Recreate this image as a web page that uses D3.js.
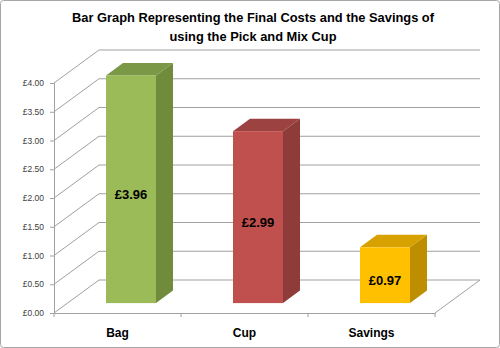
<!DOCTYPE html>
<html>
<head>
<meta charset="utf-8">
<script src="https://cdn.jsdelivr.net/npm/d3@7"></script>
<style>
  body { margin: 0; background: #fff; }
  svg { display: block; font-family: "Liberation Sans", Arial, sans-serif; }
</style>
</head>
<body>
<svg id="chart" width="500" height="348"></svg>
<script>
// data
const categories = ["Bag", "Cup", "Savings"];
const values = [3.96, 2.99, 0.97];
const valueLabels = ["£3.96", "£2.99", "£0.97"];
const yTicks = [0, 0.5, 1, 1.5, 2, 2.5, 3, 3.5, 4];
const titleLines = ["Bar Graph Representing the Final Costs and the Savings of", "using the Pick and Mix Cup"];

const frontColors = ["#9bbb59", "#c0504d", "#ffc000"];
const sideColors = ["#718b3c", "#8e3b39", "#bd8e00"];
const topColors = ["#7b9847", "#9c4240", "#d7a100"];

const svg = d3.select("#chart");

// outer border
svg.append("rect")
    .attr("x", 0.5).attr("y", 0.5)
    .attr("width", 499).attr("height", 347)
    .attr("rx", 3)
    .attr("fill", "#fff")
    .attr("stroke", "#a6a6a6");

// title
svg.selectAll(".title").data(titleLines).enter().append("text")
    .attr("x", 253)
    .attr("y", (d, i) => 22 + i * 19)
    .attr("text-anchor", "middle")
    .attr("font-size", 13)
    .attr("font-weight", "bold")
    .attr("fill", "#000")
    .attr("textLength", (d, i) => i === 0 ? 362 : 167)
    .attr("lengthAdjust", "spacingAndGlyphs")
    .text(d => d);

// scales (front plane)
const y = d3.scaleLinear().domain([0, 4]).range([313, 83]);
const x = d3.scaleBand().domain(categories).range([54, 435]).padding(0);

// 3d depth of the plot box and of the bars
const depthX = 45, depthY = -33;
const barShift = 0.3;            // bar front face, fraction of full depth
const barDepthX = 17, barDepthY = -12.5;
const barW = 50;
const gridColor = "#a0a0a0";

// back wall gridlines
svg.append("g").selectAll("line").data(yTicks).enter().append("line")
    .attr("x1", 54 + depthX).attr("x2", 435 + depthX)
    .attr("y1", d => y(d) + depthY).attr("y2", d => y(d) + depthY)
    .attr("stroke", gridColor).attr("stroke-width", 1);

// side wall diagonals
svg.append("g").selectAll("line").data(yTicks).enter().append("line")
    .attr("x1", 54).attr("x2", 54 + depthX)
    .attr("y1", d => y(d)).attr("y2", d => y(d) + depthY)
    .attr("stroke", gridColor).attr("stroke-width", 1);

// floor right edge
svg.append("line")
    .attr("x1", 435).attr("y1", y(0))
    .attr("x2", 435 + depthX).attr("y2", y(0) + depthY)
    .attr("stroke", gridColor);

// x axis (front floor edge)
const xAxis = svg.append("g")
    .attr("transform", `translate(0,${y(0)})`)
    .call(d3.axisBottom(x).tickSize(0).tickFormat(""));
xAxis.select(".domain").attr("stroke", gridColor);
svg.append("g").selectAll("line").data(d3.range(categories.length + 1)).enter().append("line")
    .attr("x1", i => 54 + i * x.bandwidth()).attr("x2", i => 54 + i * x.bandwidth())
    .attr("y1", y(0)).attr("y2", y(0) + 4)
    .attr("stroke", gridColor);

// y axis
const yAxis = svg.append("g")
    .attr("transform", "translate(54,0)")
    .call(d3.axisLeft(y).tickValues(yTicks).tickSize(4).tickPadding(6)
        .tickFormat(d => "£" + d3.format(".2f")(d)));
yAxis.select(".domain").attr("stroke", gridColor);
yAxis.selectAll(".tick line").attr("stroke", gridColor);
yAxis.selectAll(".tick text")
    .attr("font-size", 8.5)
    .attr("fill", "#404040")
    .attr("font-family", "Liberation Sans, Arial, sans-serif");

// category labels
svg.append("g").selectAll("text").data(categories).enter().append("text")
    .attr("x", d => x(d) + x.bandwidth() / 2)
    .attr("y", 337)
    .attr("text-anchor", "middle")
    .attr("font-size", 12)
    .attr("font-weight", "bold")
    .text(d => d);

// 3d bars
const bars = svg.append("g").selectAll("g").data(values).enter().append("g");
const fx = (d, i) => x(categories[i]) + x.bandwidth() / 2 - barW / 2 + depthX * barShift;
const fy0 = y(0) + depthY * barShift;
const fy = d => y(d) + depthY * barShift;

// side face
bars.append("path")
    .attr("d", (d, i) => {
        const x1 = fx(d, i) + barW;
        return `M${x1},${fy0} L${x1 + barDepthX},${fy0 + barDepthY} L${x1 + barDepthX},${fy(d) + barDepthY} L${x1},${fy(d)} Z`;
    })
    .attr("fill", (d, i) => sideColors[i]);

// top face
bars.append("path")
    .attr("d", (d, i) => {
        const x0 = fx(d, i), t = fy(d);
        return `M${x0},${t} L${x0 + barDepthX},${t + barDepthY} L${x0 + barW + barDepthX},${t + barDepthY} L${x0 + barW},${t} Z`;
    })
    .attr("fill", (d, i) => topColors[i]);

// front face
bars.append("rect")
    .attr("x", (d, i) => fx(d, i))
    .attr("y", d => fy(d))
    .attr("width", barW)
    .attr("height", d => fy0 - fy(d))
    .attr("fill", (d, i) => frontColors[i]);

// value labels
bars.append("text")
    .attr("x", (d, i) => fx(d, i) + barW / 2)
    .attr("y", d => (fy(d) + fy0) / 2 + 10)
    .attr("text-anchor", "middle")
    .attr("font-size", 13)
    .attr("font-weight", "bold")
    .attr("fill", "#000")
    .text((d, i) => valueLabels[i]);
</script>
</body>
</html>
